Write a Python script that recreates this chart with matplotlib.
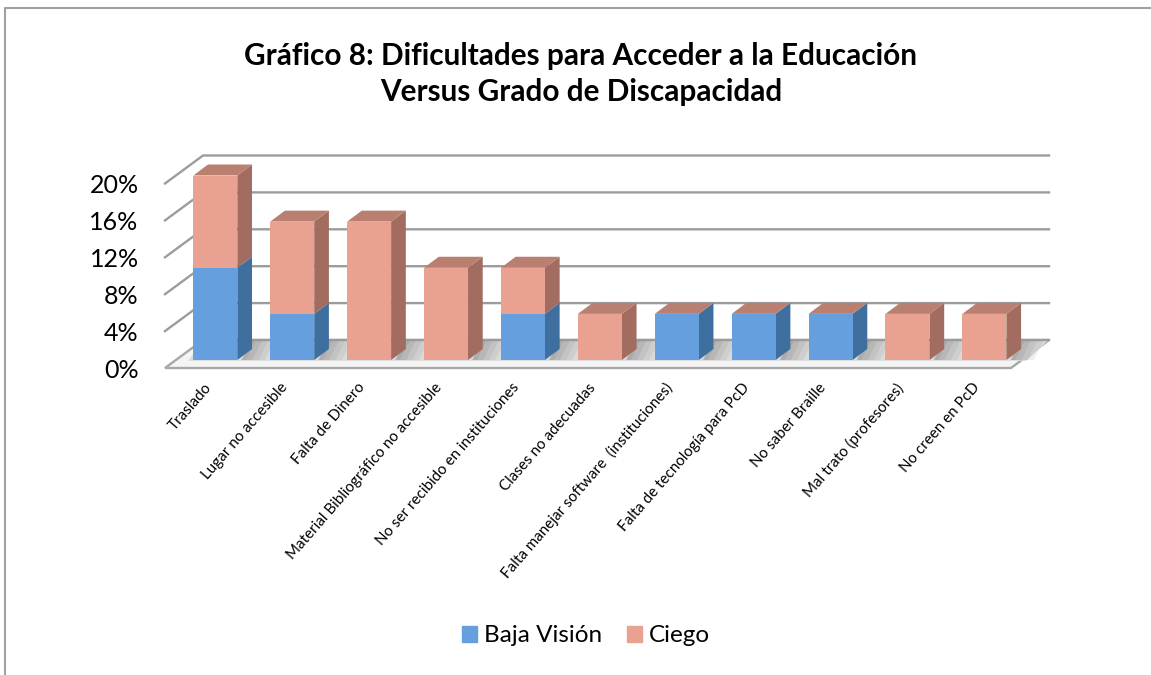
import matplotlib
matplotlib.use('Agg')
import matplotlib.pyplot as plt
from matplotlib.patches import Patch

categories = ['Traslado', 'Lugar no accesible', 'Falta de Dinero',
              'Material Bibliográfico no accesible', 'No ser recibido en instituciones',
              'Clases no adecuadas', 'Falta manejar software  (instituciones)',
              'Falta de tecnología para PcD', 'No saber Braille',
              'Mal trato (profesores)', 'No creen en PcD']
baja_vision = [10, 5, 0, 0, 5, 0, 5, 5, 5, 0, 0]
ciego = [10, 10, 15, 10, 5, 5, 0, 0, 0, 5, 5]
y_ticks = [0, 4, 8, 12, 16, 20]

W, H = 1151, 675
BLUE = ('#659fdd', '#5a8cc4', '#3f6f9e')
RED = ('#e9a292', '#b98071', '#a26c60')
GRID = '#9c9c9c'

plt.rcParams['font.family'] = ['Lato', 'DejaVu Sans']

fig = plt.figure(figsize=(W / 100, H / 100), dpi=100)
# plot area is the front plane of the fake 3d box, in pixels of the picture
ax = fig.add_axes([165 / W, 1 - 368 / H, 846 / W, 184.5 / H])
ax.set_xlim(0, len(categories))
ax.set_ylim(0, 20)
for s in ax.spines.values():
    s.set_visible(False)
ax.patch.set_alpha(0)

# depth of the box and of the columns, in data units
box_dx, box_dy = 38 / 76.9, 28 / 9.225
bar_dx, bar_dy = 14.7 / 76.9, 11 / 9.225
shift_x, shift_y = 0.154, 8 / 9.225
bar_w = 44 / 76.9
n = len(categories)

# back wall and left wall
for t in y_ticks[1:]:
    ax.plot([0, box_dx, n + box_dx], [t, t + box_dy, t + box_dy], color=GRID, lw=1.7,
            zorder=1, clip_on=False, solid_joinstyle='miter')

# floor
ax.fill([0, n, n + box_dx, box_dx], [0, 0, box_dy, box_dy], facecolor='#f4f4f4',
        edgecolor='#a8a8a8', lw=1.7, zorder=2, clip_on=False)
ax.fill([0.3, n + 0.2, n + box_dx - 0.02, box_dx], [shift_y * 0.9, shift_y * 0.9, box_dy - 0.1, box_dy - 0.1],
        facecolor='#dadada', lw=0, zorder=2.1, clip_on=False)
ax.plot([box_dx, n + box_dx], [box_dy, box_dy], color=GRID, lw=1.7, zorder=2.2, clip_on=False)

# shadows falling to the right of each column, soft edge from stacked alpha
for i in range(n):
    x0 = i + 0.5 + shift_x + bar_w / 2 + bar_dx * 0.3
    for k, a in zip([0.30, 0.22, 0.14, 0.06], [0.14, 0.16, 0.2, 0.24]):
        ax.fill([x0, x0 + k, x0 + k + 0.12, x0 + 0.12],
                [shift_y, shift_y, box_dy - 0.1, box_dy - 0.1],
                facecolor='#8a8a8a', alpha=a, lw=0, zorder=2.3, clip_on=False)

x = [i + 0.5 + shift_x for i in range(n)]
floor = [shift_y] * n
tops = [shift_y + b for b in baja_vision]
bars1 = ax.bar(x, baja_vision, bar_w, bottom=floor, color=BLUE[0], zorder=4, clip_on=False)
bars2 = ax.bar(x, ciego, bar_w, bottom=tops, color=RED[0], zorder=4, clip_on=False)


def box_sides(rect, cols, draw_top):
    x1 = rect.get_x() + rect.get_width()
    y0 = rect.get_y()
    y1 = y0 + rect.get_height()
    if rect.get_height() > 0:
        ax.fill([x1, x1 + bar_dx, x1 + bar_dx, x1], [y0, y0 + bar_dy, y1 + bar_dy, y1],
                facecolor=cols[2], lw=0, zorder=3.5, clip_on=False)
    if draw_top:
        x0 = rect.get_x()
        ax.fill([x0, x1, x1 + bar_dx, x0 + bar_dx], [y1, y1, y1 + bar_dy, y1 + bar_dy],
                facecolor=cols[1], lw=0, zorder=3.5, clip_on=False)


# the top face always belongs to the last series, even when its value is 0
for r1, r2 in zip(bars1, bars2):
    box_sides(r1, BLUE, False)
    box_sides(r2, RED, True)

ax.set_yticks(y_ticks)
ax.set_yticklabels(['%d%%' % t for t in y_ticks], fontsize=18, va='center_baseline')
ax.tick_params(axis='y', length=0, pad=19)
ax.set_xticks([i + 0.5 for i in range(n)])
ax.set_xticklabels(categories, fontsize=10.9, rotation=49, ha='right', va='top',
                   rotation_mode='anchor')
ax.tick_params(axis='x', length=0, pad=9)

fig.text(581 / W, 1 - 56.5 / H, 'Gráfico 8: Dificultades para Acceder a la Educación',
         ha='center', va='center', fontsize=21.4, fontweight='bold')
fig.text(581 / W, 1 - 92.5 / H, 'Versus Grado de Discapacidad',
         ha='center', va='center', fontsize=21.4, fontweight='bold')

handles = [Patch(color=BLUE[0], label='Baja Visión'), Patch(color=RED[0], label='Ciego')]
fig.legend(handles=handles, loc='center', bbox_to_anchor=(586 / W, 1 - 636 / H), ncol=2,
           frameon=False, fontsize=17.5, handlelength=0.62, handleheight=0.62,
           handletextpad=0.3, columnspacing=1.0)

# chart frame, only the top and left edges are inside the picture
fig.add_artist(plt.Line2D([5 / W, 5 / W, 1], [0, 1 - 8 / H, 1 - 8 / H], color='#a0a0a0', lw=1.5))

fig.savefig('out.png', dpi=100)
